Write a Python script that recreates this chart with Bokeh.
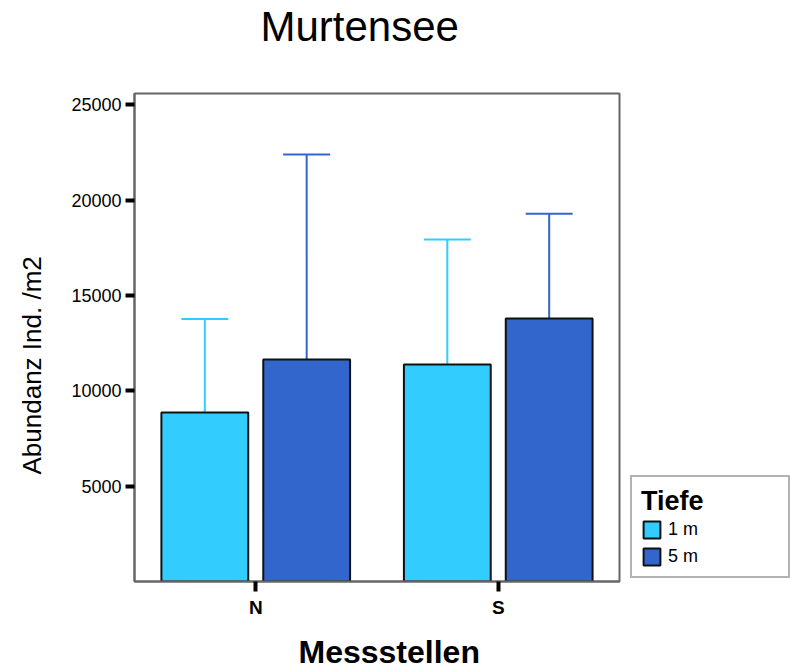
from bokeh.plotting import figure
from bokeh.models import (ColumnDataSource, Range1d, FixedTicker, Whisker, TeeHead,
                          Legend, LegendItem, Title, LinearAxis)
from bokeh.embed import file_html
from bokeh.resources import INLINE

# ---- data ----
categories = ["N", "S"]
depths = ["1 m", "5 m"]
mean_1m = [8870, 11390]
mean_5m = [11640, 13800]
upper_1m = [13770, 17940]
upper_5m = [22400, 19290]
y_ticks = [5000, 10000, 15000, 20000, 25000]
title_text = "Murtensee"
x_title = "Messstellen"
y_title = "Abundanz Ind. /m2"
legend_title = "Tiefe"

colors = ["#33CCFF", "#3366CC"]
FONT = "Liberation Sans"

cat_pos = [i + 0.5 for i in range(len(categories))]
offsets = [-0.21, 0.21]
bar_w = 0.358
Y_MAX = 25600

p = figure(frame_width=485, frame_height=488,
           x_range=Range1d(0, len(categories)), y_range=Range1d(0, Y_MAX),
           output_backend="svg", toolbar_location=None,
           min_border_left=134, min_border_right=171,
           min_border_top=92, min_border_bottom=89)
p.background_fill_color = "white"
p.border_fill_color = "white"
p.xgrid.visible = False
p.ygrid.visible = False
p.outline_line_color = "#666666"
p.outline_line_width = 2

# y axis
p.yaxis.ticker = FixedTicker(ticks=y_ticks)
p.yaxis.major_tick_out = 9
p.yaxis.major_tick_in = 0
p.yaxis.major_tick_line_width = 4
p.yaxis.major_tick_line_color = "black"
p.yaxis.minor_tick_line_color = None
p.yaxis.axis_line_color = "#666666"
p.yaxis.axis_line_width = 2
p.yaxis.major_label_text_font = FONT
p.yaxis.major_label_text_font_size = "18px"
p.yaxis.major_label_text_color = "black"
p.yaxis.major_label_standoff = 4

# x axis
p.xaxis.ticker = FixedTicker(ticks=cat_pos)
p.xaxis.major_label_overrides = {pos: c for pos, c in zip(cat_pos, categories)}
p.xaxis.major_tick_out = 10
p.xaxis.major_tick_in = 0
p.xaxis.major_tick_line_width = 4
p.xaxis.major_tick_line_color = "black"
p.xaxis.minor_tick_line_color = None
p.xaxis.axis_line_color = "#666666"
p.xaxis.axis_line_width = 2
p.xaxis.major_label_text_font = FONT
p.xaxis.major_label_text_font_size = "19px"
p.xaxis.major_label_text_font_style = "bold"
p.xaxis.major_label_text_color = "black"
p.xaxis.major_label_standoff = 5

renderers = []
for means, uppers, off, col in [(mean_1m, upper_1m, offsets[0], colors[0]),
                                (mean_5m, upper_5m, offsets[1], colors[1])]:
    src = ColumnDataSource(dict(x=[c + off for c in cat_pos], top=means, upper=uppers))
    w = Whisker(base="x", lower="top", upper="upper", source=src,
                line_color=col, line_width=2,
                upper_head=TeeHead(size=47, line_color=col, line_width=2),
                lower_head=None)
    p.add_layout(w)
    r = p.vbar(x="x", top="top", bottom=0, width=bar_w, source=src,
               fill_color=col, line_color="#111111", line_width=2)
    renderers.append(r)

legend = Legend(items=[LegendItem(label=d, renderers=[r]) for d, r in zip(depths, renderers)],
                location=(11, 3), title=legend_title,
                title_text_font=FONT, title_text_font_size="27px", title_text_font_style="bold",
                title_text_color="black", title_standoff=2,
                label_text_font=FONT, label_text_font_size="18px", label_text_color="black",
                glyph_width=21, glyph_height=21, label_standoff=6, label_width=111,
                label_height=21, spacing=6, padding=9, margin=0,
                border_line_color="#666666", border_line_width=2,
                background_fill_color="white", background_fill_alpha=1.0)
p.add_layout(legend, "right")


def spacer(size, mid):
    # an axis with a single invisible tick, used as a fixed-size gap
    return LinearAxis(ticker=FixedTicker(ticks=[mid]), axis_line_color=None,
                      major_tick_line_color="white", major_tick_line_alpha=0.0,
                      minor_tick_line_color=None,
                      major_tick_in=0, major_tick_out=size, minor_tick_out=0,
                      major_label_standoff=0, major_label_overrides={mid: ""},
                      major_label_text_font_size="1px", major_label_text_color="white")


x_mid = len(categories) / 2
y_mid = Y_MAX / 2

# titles (a spacer sits between the frame/axis and each title)
p.add_layout(spacer(44, x_mid), "above")
p.add_layout(Title(text=title_text, align="left", offset=126, vertical_align="bottom",
                   text_font=FONT, text_font_size="42px", text_font_style="normal",
                   text_color="black", standoff=0), "above")
p.add_layout(spacer(11, x_mid), "below")
p.add_layout(Title(text=x_title, align="left", offset=164, vertical_align="bottom",
                   text_font=FONT, text_font_size="32px", text_font_style="bold",
                   text_color="black", standoff=0), "below")
p.add_layout(spacer(22, y_mid), "left")
p.add_layout(Title(text=y_title, align="left", offset=107, vertical_align="bottom",
                   text_font=FONT, text_font_size="26px", text_font_style="normal",
                   text_color="black", standoff=0), "left")

open("out.html", "w").write(file_html(p, INLINE))
